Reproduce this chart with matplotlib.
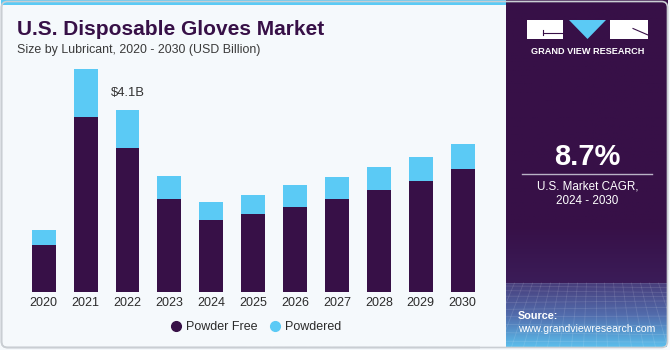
import numpy as np
import matplotlib
matplotlib.use("Agg")
import matplotlib.pyplot as plt
from matplotlib.lines import Line2D
from matplotlib.patches import Rectangle, FancyBboxPatch, Polygon

# ---- data ----
years = ["2020", "2021", "2022", "2023", "2024", "2025", "2026", "2027", "2028", "2029", "2030"]
powder_free = [1.07, 3.94, 3.24, 2.10, 1.62, 1.75, 1.92, 2.10, 2.30, 2.50, 2.76]
powdered = [0.33, 1.08, 0.86, 0.51, 0.40, 0.44, 0.48, 0.49, 0.52, 0.55, 0.57]
series_names = ["Powder Free", "Powdered"]
title = "U.S. Disposable Gloves Market"
subtitle = "Size by Lubricant, 2020 - 2030 (USD Billion)"
cagr = "8.7%"
cagr_label = "U.S. Market CAGR,\n2024 - 2030"

DARK = "#371047"
BLUE = "#5BCAF5"
BG = "#F5F9FC"
FONT = "Liberation Sans"
plt.rcParams["font.family"] = [FONT, "DejaVu Sans"]

W, H = 670, 350
fig = plt.figure(figsize=(6.7, 3.5), dpi=100)
fig.patch.set_facecolor(BG)

# overlay axes in pixel coords for decorations
ov = fig.add_axes([0, 0, 1, 1], zorder=0)
ov.set_xlim(0, W)
ov.set_ylim(H, 0)
ov.axis("off")
ov.patch.set_alpha(0)

# outer border
ov.add_patch(FancyBboxPatch((1.5, 1.5), W - 4, H - 4, boxstyle="round,pad=0,rounding_size=6",
                            fc="none", ec="#C9CED3", lw=1.2))
# top blue strip
ov.add_patch(Rectangle((1, 0), 505, 5, fc=BLUE, ec="none"))

# right panel (dark) with slight fade near bottom
px0, px1 = 505.5, 667
c_top = np.array([0x37, 0x10, 0x47]) / 255
c_mid = np.array([0x3B, 0x1C, 0x58]) / 255
panel = np.zeros((100, 1, 3))
for i in range(100):
    t = i / 99
    tt = max(0, (t - 0.8) / 0.2)
    panel[i, 0] = c_top * (1 - tt) + c_mid * tt
ov.imshow(panel, extent=(px0, px1, 283, 0), aspect="auto", zorder=1)
# source area gradient
c1 = np.array([0x48, 0x3E, 0x7C]) / 255
c2 = np.array([0x52, 0x6C, 0xAC]) / 255
c3 = np.array([0x5B, 0xBE, 0xEC]) / 255
src = np.zeros((100, 1, 3))
for i in range(100):
    t = i / 99
    if t < 0.5:
        src[i, 0] = c1 * (1 - t / 0.5) + c2 * (t / 0.5)
    else:
        src[i, 0] = c2 * (1 - (t - 0.5) / 0.5) + c3 * ((t - 0.5) / 0.5)
ov.imshow(src, extent=(px0, px1, 347, 283), aspect="auto", zorder=1)
# faint mesh in source area
for k in range(-20, 40):
    xa = px0 + k * 9
    ov.plot([xa, xa + (k - 10) * 3], [283, 347], color="white", alpha=0.12, lw=0.6, zorder=2)
for j in range(14):
    yy = 283 + (j ** 1.35) * 3.0
    if yy < 347:
        ov.plot([px0, px1], [yy, yy + 2 * np.sin(j)], color="white", alpha=0.12, lw=0.6, zorder=2)
ov.set_xlim(0, W)
ov.set_ylim(H, 0)
# cover mesh overflow outside panel
ov.add_patch(Rectangle((px1, 270), 10, 90, fc=BG, ec="none", zorder=2.5))
ov.add_patch(Rectangle((480, 270), px0 - 480, 90, fc=BG, ec="none", zorder=2.5))
ov.add_patch(Rectangle((480, 347), 200, 10, fc=BG, ec="none", zorder=2.5))
ov.add_patch(FancyBboxPatch((1.5, 1.5), W - 4, H - 4, boxstyle="round,pad=0,rounding_size=6",
                            fc="none", ec="#C9CED3", lw=1.2, zorder=2.6))

# logo
ov.add_patch(Rectangle((527, 20), 36, 19, fc="white", ec="none", zorder=3))
ov.plot([543, 563], [32.5, 32.5], color=DARK, lw=0.8, zorder=4)
ov.plot([543, 543], [30, 35], color=DARK, lw=0.8, zorder=4)
ov.add_patch(Polygon([(569, 20), (606, 20), (587.5, 39)], closed=True, fc=BLUE, ec="none", zorder=3))
ov.add_patch(Rectangle((610, 20), 38, 19, fc="white", ec="none", zorder=3))
ov.plot([633, 648], [28.5, 35], color=DARK, lw=0.8, zorder=4)
ov.text(587.5, 51, "GRAND VIEW RESEARCH", color="white", fontsize=6.6, fontweight="bold",
        ha="center", va="center", zorder=4)

# CAGR block
ov.text(587.5, 157, cagr, color="white", fontsize=21, fontweight="bold", ha="center", va="center", zorder=4)
ov.plot([522, 652], [173.5, 173.5], color="#B9B2C6", lw=1, zorder=4)
ov.text(587.5, 194, cagr_label, color="white", fontsize=8.4, ha="center", va="center",
        linespacing=1.25, zorder=4)

# source
ov.text(518, 316, "Source:", color="white", fontsize=7.8, fontweight="bold", ha="left", va="center", zorder=4)
ov.text(518, 329.5, "www.grandviewresearch.com", color="white", fontsize=7.6, ha="left", va="center", zorder=4)

# title
ov.text(17, 35, title, color=DARK, fontsize=15, fontweight="bold", ha="left", va="baseline", zorder=4)
ov.text(17, 52.7, subtitle, color="#3A3A3A", fontsize=8.9, ha="left", va="baseline", zorder=4)

# ---- main chart ----
step = 41.9
left_px = 43.7 - 0.5 * step
ymax = 5.2
scale = 0.02253  # value per pixel
top_px = 292 - ymax / scale
ax = fig.add_axes([left_px / W, (H - 292) / H, 11 * step / W, (292 - top_px) / H], zorder=2)
ax.patch.set_alpha(0)
x = np.arange(len(years))
ax.bar(x, powder_free, width=0.57, color=DARK, edgecolor="none", label=series_names[0])
ax.bar(x, powdered, width=0.57, bottom=powder_free, color=BLUE, edgecolor="none", label=series_names[1])
ax.set_xlim(-0.5, len(years) - 0.5)
ax.set_ylim(0, ymax)
ax.set_xticks(x, labels=years)
ax.tick_params(axis="x", length=0, pad=3.5, labelsize=9, labelcolor="#2B2B2B")
ax.set_yticks([])
for s in ax.spines.values():
    s.set_visible(False)

totals = [a + b for a, b in zip(powder_free, powdered)]
ax.annotate(f"${totals[2]:.1f}B", xy=(2, totals[2]), xytext=(0, 12), textcoords="offset points",
            ha="center", va="center", fontsize=9.4, color="#333333")

handles = [Line2D([], [], marker="o", ls="", ms=7, color=DARK),
           Line2D([], [], marker="o", ls="", ms=7, color=BLUE)]
fig.legend(handles, series_names, loc="center", bbox_to_anchor=(256 / W, 1 - 327.5 / H), ncol=2,
           frameon=False, fontsize=9, handlelength=0.8, handletextpad=0.45, columnspacing=0.95,
           labelcolor="#2B2B2B")

fig.savefig("out.png", dpi=100, facecolor=BG)
